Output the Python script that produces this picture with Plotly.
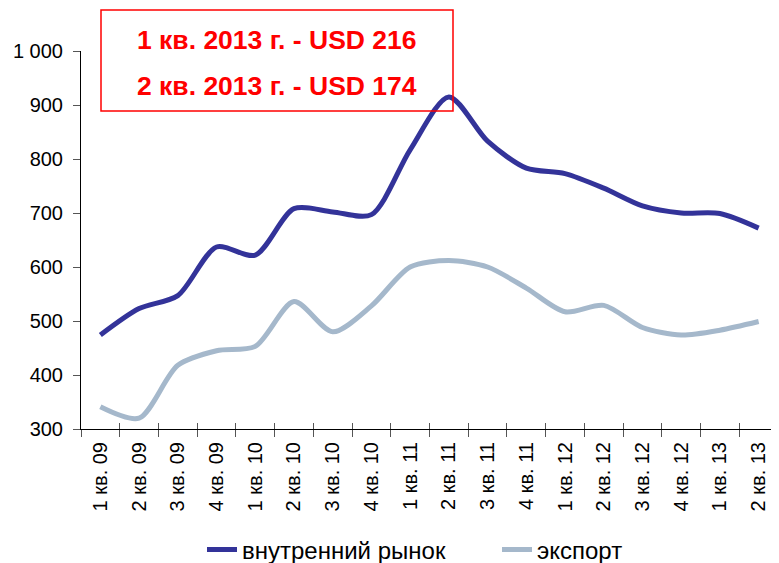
import plotly.graph_objects as go

categories = ["1 кв. 09", "2 кв. 09", "3 кв. 09", "4 кв. 09",
              "1 кв. 10", "2 кв. 10", "3 кв. 10", "4 кв. 10",
              "1 кв. 11", "2 кв. 11", "3 кв. 11", "4 кв. 11",
              "1 кв. 12", "2 кв. 12", "3 кв. 12", "4 кв. 12",
              "1 кв. 13", "2 кв. 13"]
domestic = [474, 523, 547, 637, 622, 708, 702, 697, 817, 915,
            833, 783, 773, 746, 713, 700, 699, 672]
export = [341, 320, 418, 445, 453, 536, 480, 528, 600, 612,
          600, 561, 517, 529, 488, 474, 483, 499]
y_ticks = [300, 400, 500, 600, 700, 800, 900, 1000]
y_tick_labels = ["300", "400", "500", "600", "700", "800", "900", "1 000"]
box_lines = ["1 кв. 2013 г. - USD 216", "2 кв. 2013 г. - USD 174"]

FONT = "Liberation Sans, Arial, sans-serif"

fig = go.Figure()
fig.add_trace(go.Scatter(x=categories, y=domestic, mode="lines",
                         name="внутренний рынок",
                         line=dict(color="#333399", width=5, shape="spline", smoothing=0.8)))
fig.add_trace(go.Scatter(x=categories, y=export, mode="lines",
                         name="экспорт",
                         line=dict(color="#A5B8CB", width=5, shape="spline", smoothing=0.8)))
# invisible helper trace for the overlay axis (inner half of the cross ticks)
fig.add_trace(go.Scatter(x=categories, y=export, xaxis="x2", mode="lines",
                         line=dict(width=0), showlegend=False, hoverinfo="skip",
                         opacity=0))

# the page body adds an 8px offset; plot area should sit at x 81..778, y 51..429 on the page
fig.update_layout(
    width=771, height=555,
    margin=dict(l=73, r=1, t=43, b=134),
    paper_bgcolor="white", plot_bgcolor="white",
    font=dict(family=FONT, size=20, color="black"),
    showlegend=True,
    legend=dict(orientation="h", xref="container", yref="container",
                x=(202 - 8) / 771, xanchor="left",
                y=1 - (550 - 8) / 555, yanchor="middle",
                font=dict(size=24), itemwidth=30, entrywidth=250,
                traceorder="normal"),
    xaxis=dict(type="category", categoryarray=categories, range=[-0.5, 17.5],
               showline=True, linecolor="black", linewidth=1, automargin=False,
               ticks="outside", tickson="boundaries", ticklen=7, tickcolor="#555",
               ticklabelstandoff=4,
               tickangle=-90, tickfont=dict(size=20), showgrid=False, zeroline=False),
    xaxis2=dict(type="category", categoryarray=categories, range=[-0.5, 17.5],
                overlaying="x", anchor="y", side="bottom", automargin=False,
                ticks="inside", tickson="boundaries", ticklen=6, tickcolor="#555",
                showticklabels=False, showgrid=False, zeroline=False, showline=False),
    yaxis=dict(range=[300, 1000], tickvals=y_ticks, ticktext=y_tick_labels,
               showline=True, linecolor="black", linewidth=1, automargin=False,
               ticks="outside", ticklen=7, tickcolor="#555", ticklabelstandoff=6,
               tickfont=dict(size=20), showgrid=False, zeroline=False),
)

fig.add_shape(type="rect", xref="paper", yref="paper",
              x0=(101 - 81) / 697, x1=(453 - 81) / 697,
              y0=(429 - 111) / 378, y1=(429 - 10) / 378,
              line=dict(color="#FF0000", width=1.5), fillcolor="rgba(0,0,0,0)")
for i, txt in enumerate(box_lines):
    fig.add_annotation(xref="paper", yref="paper",
                       x=(277 - 81) / 697, y=(429 - (40 + 46 * i)) / 378,
                       text="<b>" + txt + "</b>", showarrow=False,
                       xanchor="center", yanchor="middle",
                       font=dict(family=FONT, size=26.5, color="#FF0000"))

fig.write_html("out.html")
